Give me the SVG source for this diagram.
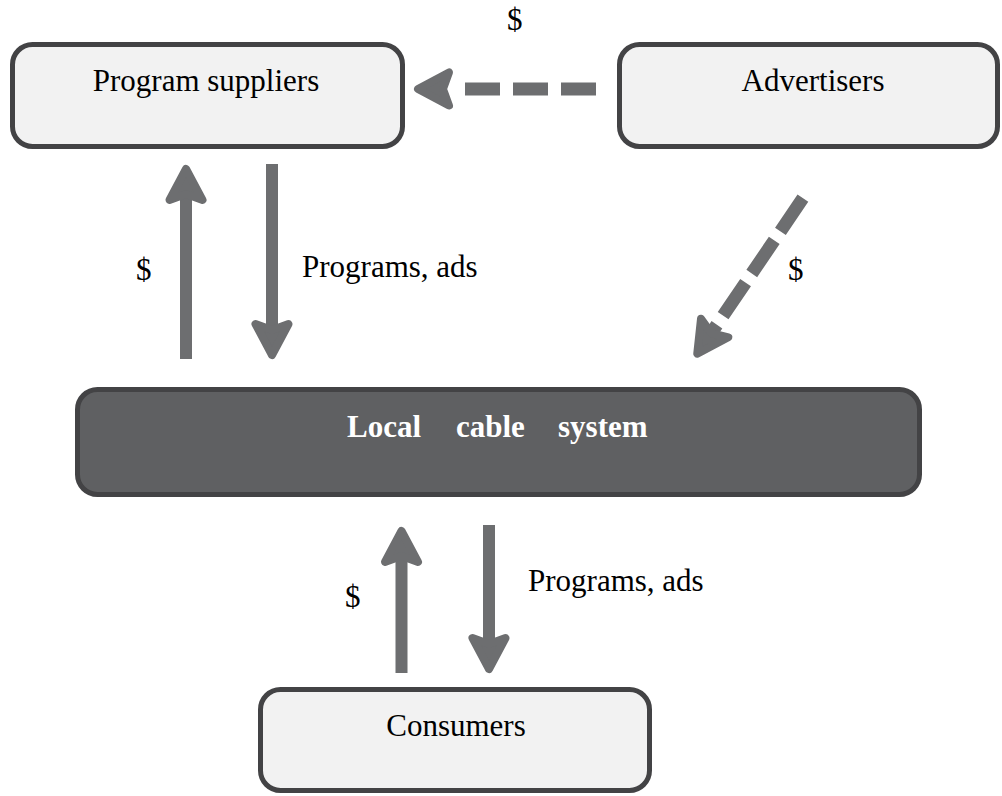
<svg xmlns="http://www.w3.org/2000/svg" xmlns:xlink="http://www.w3.org/1999/xlink" width="1002" height="796" viewBox="0 0 1002 796">
<style>
.box{fill:#f2f2f2;stroke:#434345;stroke-width:5}
.dark{fill:#5f6062;stroke:#434345;stroke-width:5}
.t{font-family:"Liberation Serif","Times New Roman",serif;font-size:31px;fill:#000}
.tb{font-family:"Liberation Serif","Times New Roman",serif;font-size:31px;font-weight:bold;fill:#fff}
.shaft{fill:#6d6e70}
.ah{fill:#6d6e70;stroke:#6d6e70;stroke-width:8;stroke-linejoin:round}
.dash{stroke:#6d6e70;stroke-width:13;fill:none;stroke-linecap:butt}
</style>
<defs>
<path id="head" class="ah" d="M0,4 L16.5,35 L0,29 L-16.5,35 Z"/>
</defs>
<rect width="1002" height="796" fill="#fff"/>
<g id="connectors">
<g id="ps-up">
<rect class="shaft" x="180" y="195" width="12" height="164"/>
<use xlink:href="#head" transform="translate(186,165)"/>
</g>
<g id="ps-down">
<rect class="shaft" x="266" y="164" width="12" height="165"/>
<use xlink:href="#head" transform="translate(272,359) rotate(180)"/>
</g>
<g id="adv-ps">
<line class="dash" x1="465" y1="89" x2="597" y2="89" stroke-dasharray="35 13"/>
<use xlink:href="#head" transform="translate(414,89) rotate(-90)"/>
</g>
<g id="adv-local">
<line class="dash" x1="802.9" y1="198.2" x2="711.9" y2="332.2" stroke-dasharray="40 11"/>
<use xlink:href="#head" transform="translate(695,357) rotate(214.2)"/>
</g>
<g id="c-up">
<rect class="shaft" x="395.5" y="555" width="12" height="118"/>
<use xlink:href="#head" transform="translate(401.5,527)"/>
</g>
<g id="c-down">
<rect class="shaft" x="483" y="525" width="12" height="120"/>
<use xlink:href="#head" transform="translate(489,673) rotate(180)"/>
</g>
</g>
<g id="labels">
<text class="t" x="507" y="30">$</text>
<text class="t" x="136" y="280">$</text>
<text class="t" x="302" y="277">Programs, ads</text>
<text class="t" x="788" y="280">$</text>
<text class="t" x="345" y="607">$</text>
<text class="t" x="528" y="591">Programs, ads</text>
</g>
<g id="program-suppliers">
<rect class="box" x="12.5" y="44.5" width="390" height="102" rx="20"/>
<text class="t" x="206" y="91" text-anchor="middle">Program suppliers</text>
</g>
<g id="advertisers">
<rect class="box" x="619.5" y="44.5" width="378" height="102" rx="20"/>
<text class="t" x="813" y="91" text-anchor="middle">Advertisers</text>
</g>
<g id="local-cable-system">
<rect class="dark" x="77.5" y="389.5" width="842" height="105" rx="20"/>
<text class="tb" y="437"><tspan x="347">Local</tspan><tspan x="456">cable</tspan><tspan x="558">system</tspan></text>
</g>
<g id="consumers">
<rect class="box" x="260.5" y="689.5" width="389" height="101" rx="20"/>
<text class="t" x="456" y="736" text-anchor="middle">Consumers</text>
</g>
</svg>
